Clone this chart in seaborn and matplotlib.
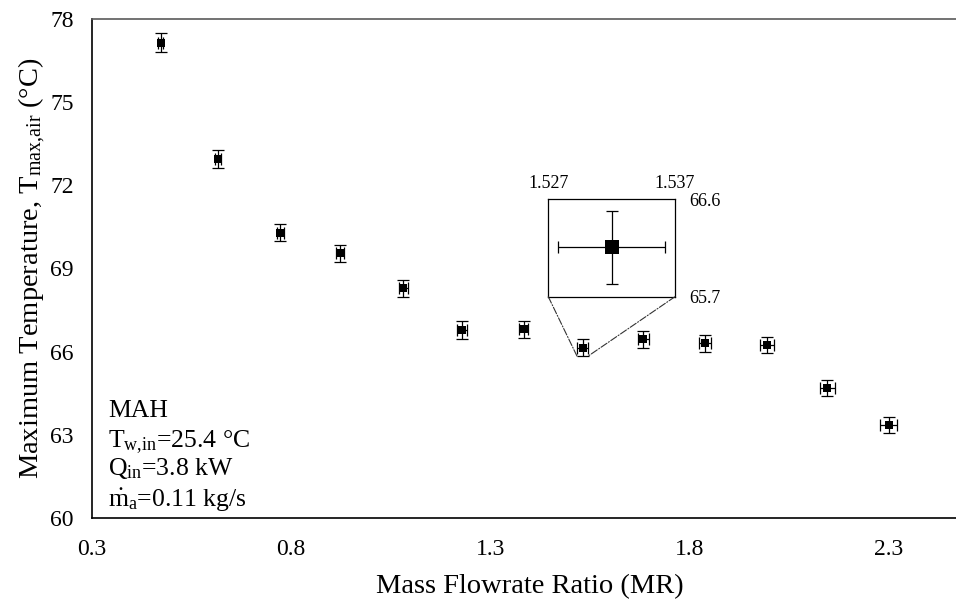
import matplotlib
matplotlib.use("Agg")
import matplotlib.pyplot as plt
import seaborn as sns
import pandas as pd
from matplotlib.patches import ConnectionPatch

# ---- data ----
mr = [0.473, 0.617, 0.773, 0.923, 1.082, 1.229, 1.384, 1.532, 1.685, 1.840, 1.995, 2.147, 2.301]
tmax = [77.15, 72.94, 70.29, 69.55, 68.29, 66.78, 66.81, 66.15, 66.45, 66.30, 66.24, 64.70, 63.35]
mr_err = [0.006, 0.007, 0.008, 0.010, 0.012, 0.0125, 0.012, 0.014, 0.014, 0.0155, 0.018, 0.019, 0.021]
t_err = [0.34, 0.32, 0.31, 0.31, 0.31, 0.31, 0.31, 0.31, 0.30, 0.30, 0.30, 0.29, 0.29]

x_ticks = [0.3, 0.8, 1.3, 1.8, 2.3]
y_ticks = [60, 63, 66, 69, 72, 75, 78]

# zoomed inset (point at MR ~ 1.532)
inset_mr = [1.532]
inset_t = [66.155]
inset_mr_err = [0.0042]
inset_t_err = [0.335]
inset_xlim = [1.527, 1.537]
inset_ylim = [65.7, 66.6]
zoom_idx = 7

notes = ["MAH", "T$_{w{,}in}$=25.4 °C", "Q$_{in}$=3.8 kW", "$\\dot{m}_{a}$=0.11 kg/s"]

df = pd.DataFrame({"mr": mr, "tmax": tmax})
dfi = pd.DataFrame({"mr": inset_mr, "tmax": inset_t})

sns.set_theme(style="white")
plt.rcParams["font.family"] = ["Liberation Serif", "DejaVu Serif"]
plt.rcParams["mathtext.fontset"] = "custom"
plt.rcParams["mathtext.rm"] = "Liberation Serif"
plt.rcParams["mathtext.it"] = "Liberation Serif:italic"
plt.rcParams["mathtext.default"] = "regular"

W, H = 956, 602
fig = plt.figure(figsize=(W / 100, H / 100), dpi=100)
L, R, B, T = 92, 968, 518, 19
ax = fig.add_axes([L / W, (H - B) / H, (R - L) / W, (B - T) / H])

ax.errorbar(mr, tmax, xerr=mr_err, yerr=t_err, fmt="none", ecolor="black",
            elinewidth=0.9, capsize=4.2, capthick=0.9, zorder=2)
sns.scatterplot(data=df, x="mr", y="tmax", marker="s", s=36, color="black",
                edgecolor="black", linewidth=0, ax=ax, zorder=3)

ax.set_xlim(0.3, 2.5)
ax.set_ylim(60, 78)
ax.set_xticks(x_ticks)
ax.set_xticklabels([f"{v:.1f}" for v in x_ticks])
ax.set_yticks(y_ticks)
ax.set_yticklabels([str(v) for v in y_ticks])
ax.tick_params(axis="both", length=0, labelsize=17, colors="black")
ax.tick_params(axis="x", pad=15)
ax.tick_params(axis="y", pad=13)
ax.grid(False)

for side in ["left", "bottom"]:
    ax.spines[side].set_color("black")
    ax.spines[side].set_linewidth(1.2)
ax.spines["top"].set_color("#5a5a5a")
ax.spines["top"].set_linewidth(1.2)
ax.spines["right"].set_visible(False)

ax.set_xlabel("Mass Flowrate Ratio (MR)", fontsize=20.5, color="black", labelpad=10)
ax.set_ylabel("Maximum Temperature, T$_{max{,}air}$ (°C)", fontsize=20.5, color="black")
ax.yaxis.set_label_coords(-0.050, 0.5)

ys = [0.2024, 0.1403, 0.0862, 0.0220]
for txt, yy in zip(notes, ys):
    ax.text(0.0185, yy, txt, transform=ax.transAxes, fontsize=18.5, va="baseline",
            ha="left", color="black")

# ---- inset ----
ix0, ix1, iy0, iy1 = 548.3, 675.0, 199.3, 296.7
axi = fig.add_axes([ix0 / W, (H - iy1) / H, (ix1 - ix0) / W, (iy1 - iy0) / H])
axi.errorbar(inset_mr, inset_t, xerr=inset_mr_err, yerr=inset_t_err, fmt="none",
             ecolor="black", elinewidth=0.9, capsize=4.2, capthick=0.9, zorder=2)
sns.scatterplot(data=dfi, x="mr", y="tmax", marker="s", s=110, color="black",
                edgecolor="black", linewidth=0, ax=axi, zorder=3)
axi.set_xlim(*inset_xlim)
axi.set_ylim(*inset_ylim)
axi.set_xticks(inset_xlim)
axi.set_xticklabels([f"{v:.3f}" for v in inset_xlim])
axi.set_yticks(inset_ylim)
axi.set_yticklabels([f"{v:.1f}" for v in inset_ylim])
axi.xaxis.tick_top()
axi.yaxis.tick_right()
axi.tick_params(length=0, labelsize=13, colors="black")
axi.tick_params(axis="x", pad=5)
axi.tick_params(axis="y", pad=10)
axi.set_xlabel("")
axi.set_ylabel("")
axi.grid(False)
for s in axi.spines.values():
    s.set_color("black")
    s.set_linewidth(0.9)

# connectors from inset box to the zoomed point
px_l = mr[zoom_idx] - mr_err[zoom_idx]
px_r = mr[zoom_idx] + mr_err[zoom_idx]
py_b = tmax[zoom_idx] - t_err[zoom_idx]
for (xa, xd) in [(0, px_l), (1, px_r)]:
    con = ConnectionPatch(xyA=(xa, 0), coordsA=axi.transAxes,
                          xyB=(xd, py_b), coordsB=ax.transData,
                          linestyle="-.", color="#333333", linewidth=0.8)
    fig.add_artist(con)

fig.savefig("out.png", dpi=100)
